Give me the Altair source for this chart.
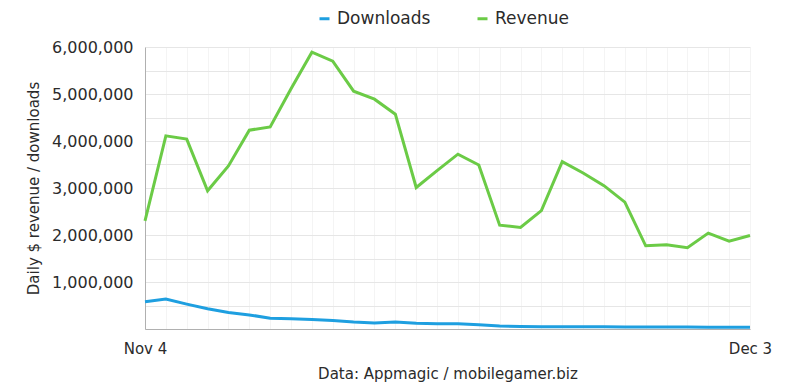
import altair as alt
import pandas as pd

dates = ["Nov 4", "Nov 5", "Nov 6", "Nov 7", "Nov 8", "Nov 9", "Nov 10", "Nov 11",
         "Nov 12", "Nov 13", "Nov 14", "Nov 15", "Nov 16", "Nov 17", "Nov 18", "Nov 19",
         "Nov 20", "Nov 21", "Nov 22", "Nov 23", "Nov 24", "Nov 25", "Nov 26", "Nov 27",
         "Nov 28", "Nov 29", "Nov 30", "Dec 1", "Dec 2", "Dec 3"]

revenue = [2300000, 4110000, 4040000, 2940000, 3470000, 4230000, 4300000, 5110000,
           5890000, 5700000, 5060000, 4890000, 4570000, 3010000, 3370000, 3720000,
           3490000, 2210000, 2160000, 2520000, 3560000, 3320000, 3050000, 2700000,
           1770000, 1790000, 1730000, 2040000, 1870000, 1990000]

downloads = [580000, 640000, 530000, 430000, 350000, 300000, 230000, 220000,
             200000, 180000, 150000, 130000, 150000, 120000, 110000, 110000,
             90000, 65000, 55000, 50000, 50000, 48000, 46000, 45000,
             42000, 40000, 40000, 38000, 37000, 36000]

series_names = ["Downloads", "Revenue"]
series_colors = ["#1e9fe0", "#6bcb46"]

y_grid = [0, 500000, 1000000, 1500000, 2000000, 2500000, 3000000, 3500000,
          4000000, 4500000, 5000000, 5500000, 6000000]

rows = []
for d, r, dl in zip(dates, revenue, downloads):
    rows.append({"date": d, "series": "Downloads", "value": dl})
    rows.append({"date": d, "series": "Revenue", "value": r})
df = pd.DataFrame(rows)

FONT = "DejaVu Sans"
TXT = "#2b2b2b"

chart = alt.Chart(df).mark_line(strokeWidth=3).encode(
    x=alt.X(
        "date:O",
        sort=dates,
        scale=alt.Scale(padding=0),
        axis=alt.Axis(
            title="Data: Appmagic / mobilegamer.biz",
            labelAngle=0,
            labelExpr="datum.value == 'Nov 4' || datum.value == 'Dec 3' ? datum.value : ''",
            ticks=False,
            grid=True,
            gridColor="#f4f4f4",
            domainColor="#b0b0b0",
            labelFont=FONT,
            labelFontSize=15,
            labelColor=TXT,
            labelPadding=12,
            titleFont=FONT,
            titleFontSize=15,
            titleFontWeight="normal",
            titleColor=TXT,
            titlePadding=10,
        ),
    ),
    y=alt.Y(
        "value:Q",
        scale=alt.Scale(domain=[0, 6000000], nice=False),
        axis=alt.Axis(
            title="Daily $ revenue / downloads",
            values=y_grid,
            labelExpr="(datum.value > 0 && datum.value % 1000000 == 0) ? format(datum.value, ',') : ''",
            ticks=False,
            grid=True,
            gridColor="#e6e6e6",
            domainColor="#b0b0b0",
            labelFont=FONT,
            labelFontSize=16,
            labelColor=TXT,
            labelPadding=12,
            titleFont=FONT,
            titleFontSize=15,
            titleFontWeight="normal",
            titleColor=TXT,
            titlePadding=10,
        ),
    ),
    color=alt.Color(
        "series:N",
        scale=alt.Scale(domain=series_names, range=series_colors),
        legend=alt.Legend(
            orient="none",
            legendX=171,
            legendY=-37,
            direction="horizontal",
            title=None,
            symbolType="stroke",
            symbolStrokeWidth=3,
            symbolSize=100,
            labelFont=FONT,
            labelFontSize=17,
            labelColor=TXT,
            columnPadding=40,
            labelOffset=4,
        ),
    ),
).properties(
    width=605,
    height=282,
    autosize=alt.AutoSizeParams(type="none"),
    padding={"left": 137, "top": 39, "right": 30, "bottom": 56},
).configure_view(stroke=None)

chart.save("out.html", embed_options={"renderer": "svg", "actions": False})
